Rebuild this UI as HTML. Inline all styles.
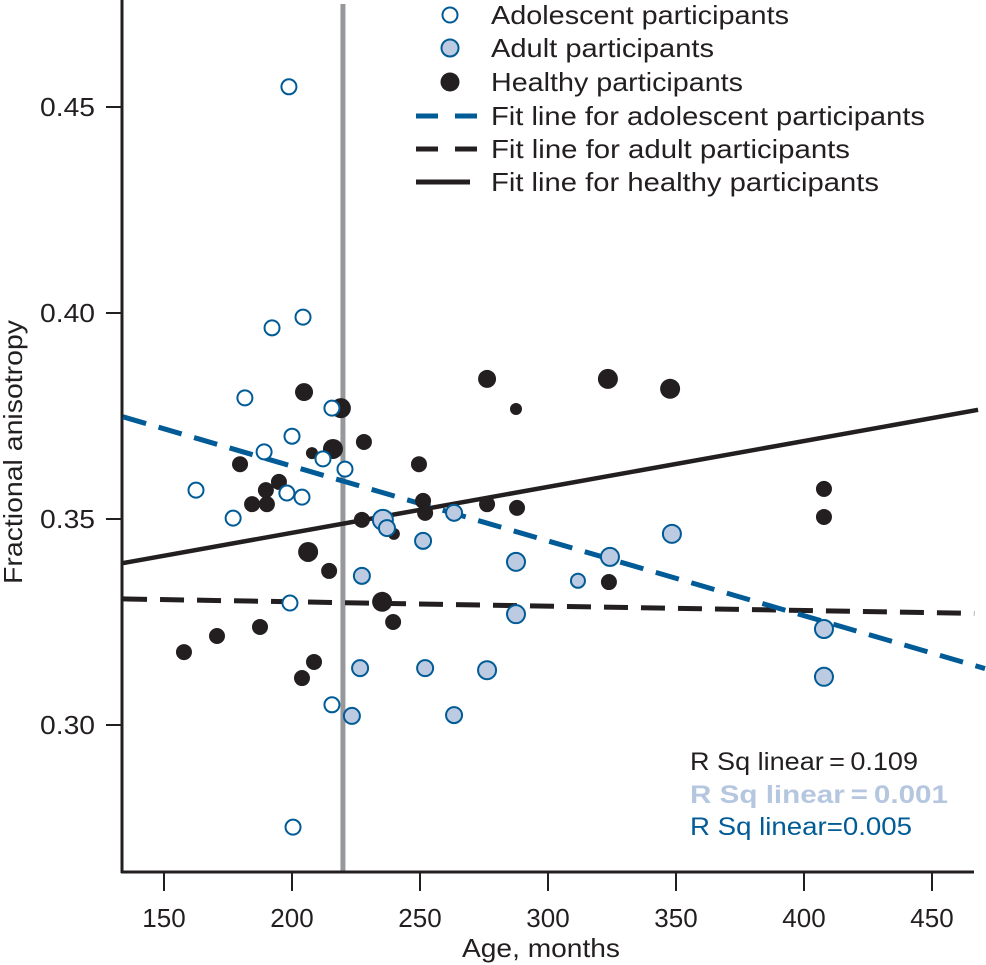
<!DOCTYPE html>
<html><head><meta charset="utf-8"><style>
html,body{margin:0;padding:0;background:#fff;}
svg{display:block;font-family:"Liberation Sans",sans-serif;}
</style></head><body>
<svg id="chart" width="986" height="965" viewBox="0 0 986 965" xmlns="http://www.w3.org/2000/svg"></svg>
<script>
const xTicks=[150,200,250,300,350,400,450];
const yTicks=[0.30,0.35,0.40,0.45];
const yTickLabels=["0.30","0.35","0.40","0.45"];
const adolAge=[198.8,204.3,192.2,181.6,215.6,200.0,189.1,212.1,220.7,162.5,198.0,203.9,177.0,199.2,215.6,200.4];
const adolFA=[0.4549,0.3990,0.3964,0.3794,0.3769,0.3701,0.3663,0.3646,0.3621,0.3570,0.3563,0.3553,0.3502,0.3296,0.3049,0.2752];
const adultAge=[235.5,237.1,251.2,263.3,227.3,287.5,311.7,324.2,348.4,287.5,407.8,276.2,407.8,263.3,226.6,252.0,223.4];
const adultFA=[0.3498,0.3478,0.3447,0.3515,0.3362,0.3396,0.3350,0.3408,0.3464,0.3269,0.3233,0.3133,0.3117,0.3024,0.3138,0.3138,0.3022];
const adultSize=[10,8,8,8,8,9,7,9,9,9,9,9,9,8,8,8,8];
const healthyAge=[204.7,219.1,228.1,216.0,207.8,179.7,249.6,194.9,189.8,184.4,190.2,251.2,252.0,227.3,239.8,206.3,214.5,235.2,239.5,187.5,170.7,157.8,208.6,203.9,276.2,323.4,347.7,287.5,276.2,287.9,407.8,407.8,323.8];
const healthyFA=[0.3808,0.3769,0.3687,0.3670,0.3660,0.3633,0.3633,0.3590,0.3570,0.3536,0.3536,0.3544,0.3515,0.3498,0.3464,0.3420,0.3374,0.3299,0.3250,0.3238,0.3216,0.3177,0.3153,0.3114,0.3840,0.3840,0.3816,0.3767,0.3536,0.3527,0.3573,0.3505,0.3347];
const healthySize=[9,10,8,10,6,8,8,8,8,8,8,8,8,8,6,10,8,10,8,8,8,8,8,8,9,10,10,6,8,8,8,8,8];
const fitAdolAge=[134.0,470.7];
const fitAdolFA=[0.3748,0.3137];
const fitAdultAge=[134.0,466.5];
const fitAdultFA=[0.3306,0.3271];
const fitHealthyAge=[134.0,468.0];
const fitHealthyFA=[0.3393,0.3765];
const cutoffAge=[219.9];

const NS="http://www.w3.org/2000/svg";
const svg=document.getElementById('chart');
function X(v){return 164+(v-150)*2.56;}
function Y(v){return 725-(v-0.30)*4120;}
function mk(tag,attrs,parent){const e=document.createElementNS(NS,tag);for(const k in attrs)e.setAttribute(k,attrs[k]);(parent||svg).appendChild(e);return e;}

const cut=mk('line',{x1:X(cutoffAge[0]),x2:X(cutoffAge[0]),y1:4,y2:872,stroke:'#97989b','stroke-width':5});



const ya=mk('line',{x1:122,x2:122,y1:0,y2:873,stroke:'#231f20','stroke-width':3});


const xa=mk('line',{x1:121,x2:974,y1:872,y2:872,stroke:'#231f20','stroke-width':3});



xTicks.forEach(t=>{
  const l=mk('line',{x1:X(t),x2:X(t),y1:872,y2:891,stroke:'#231f20','stroke-width':2});
  
  
  const tx=mk('text',{x:X(t),y:927,'text-anchor':'middle','font-size':26,fill:'#231f20'});
  tx.textContent=t;
  
  
});
yTicks.forEach((t,i)=>{
  const l=mk('line',{x1:106,x2:122,y1:Y(t),y2:Y(t),stroke:'#231f20','stroke-width':2});
  
  
  const tx=mk('text',{x:95,y:Y(t)+9,'text-anchor':'end','font-size':26,fill:'#231f20',textLength:55,lengthAdjust:'spacingAndGlyphs'});
  tx.textContent=yTickLabels[i];
  
  
});
const xt=mk('text',{x:541,y:957,'text-anchor':'middle','font-size':26,fill:'#231f20',textLength:158,lengthAdjust:'spacingAndGlyphs'});
xt.textContent='Age, months';


const yt=mk('text',{x:0,y:0,'text-anchor':'middle','font-size':26,fill:'#231f20',transform:'translate(22,452) rotate(-90)',textLength:264,lengthAdjust:'spacingAndGlyphs'});
yt.textContent='Fractional anisotropy';



const f1=mk('line',{x1:X(fitAdultAge[0]),y1:Y(fitAdultFA[0]),x2:X(fitAdultAge[1]),y2:Y(fitAdultFA[1]),stroke:'#231f20','stroke-width':5,'stroke-dasharray':'24 13'});


const f2=mk('line',{x1:X(fitHealthyAge[0]),y1:Y(fitHealthyFA[0]),x2:X(fitHealthyAge[1]),y2:Y(fitHealthyFA[1]),stroke:'#231f20','stroke-width':4.5});


const f3=mk('line',{x1:X(fitAdolAge[0]),y1:Y(fitAdolFA[0]),x2:X(fitAdolAge[1]),y2:Y(fitAdolFA[1]),stroke:'#005b96','stroke-width':5,'stroke-dasharray':'24 13'});



healthyAge.forEach((a,i)=>{
  const c=mk('circle',{cx:X(a),cy:Y(healthyFA[i]),r:healthySize[i],fill:'#231f20'});
  
  
});
adultAge.forEach((a,i)=>{
  const c=mk('circle',{cx:X(a),cy:Y(adultFA[i]),r:adultSize[i],fill:'#bccbe2',stroke:'#005b96','stroke-width':2});
  
  
});
adolAge.forEach((a,i)=>{
  const c=mk('circle',{cx:X(a),cy:Y(adolFA[i]),r:7.5,fill:'#fff',stroke:'#005b96','stroke-width':2});
  
  
});

const lg=mk('g',{});


const labels=['Adolescent participants','Adult participants','Healthy participants','Fit line for adolescent participants','Fit line for adult participants','Fit line for healthy participants'];
const labelW=[298,223,252,434,359,388];
const rows=[15,48,82,116,149,182];
labels.forEach((t,i)=>{
  const g=mk('g',{},lg);
  
  
  const y=rows[i];
  if(i===0) mk('circle',{cx:450,cy:y,r:7.5,fill:'#fff',stroke:'#005b96','stroke-width':2},g);
  if(i===1) mk('circle',{cx:450,cy:y,r:8.5,fill:'#bccbe2',stroke:'#005b96','stroke-width':2},g);
  if(i===2) mk('circle',{cx:450,cy:y,r:9.5,fill:'#231f20'},g);
  if(i===3) mk('line',{x1:416,x2:477,y1:y,y2:y,stroke:'#005b96','stroke-width':5,'stroke-dasharray':'22 17'},g);
  if(i===4) mk('line',{x1:416,x2:477,y1:y,y2:y,stroke:'#231f20','stroke-width':5,'stroke-dasharray':'22 17'},g);
  if(i===5) mk('line',{x1:416,x2:470,y1:y,y2:y,stroke:'#231f20','stroke-width':5},g);
  const tx=mk('text',{x:491,y:y+9,'font-size':26,fill:'#231f20',textLength:labelW[i],lengthAdjust:'spacingAndGlyphs'});
  g.appendChild(tx);
  tx.textContent=t;
});

const rs=[['R Sq linear\u2009=\u20090.109','#231f20','normal',770,228],['R Sq linear\u2009=\u20090.001','#b5c6df','bold',803,258],['R Sq linear=0.005','#005b96','normal',835,222]];
rs.forEach(r=>{
  const tx=mk('text',{x:690,y:r[3],'font-size':25,fill:r[1],'font-weight':r[2],textLength:r[4],lengthAdjust:'spacingAndGlyphs'});
  tx.textContent=r[0];
  
  
});
</script>
</body></html>
